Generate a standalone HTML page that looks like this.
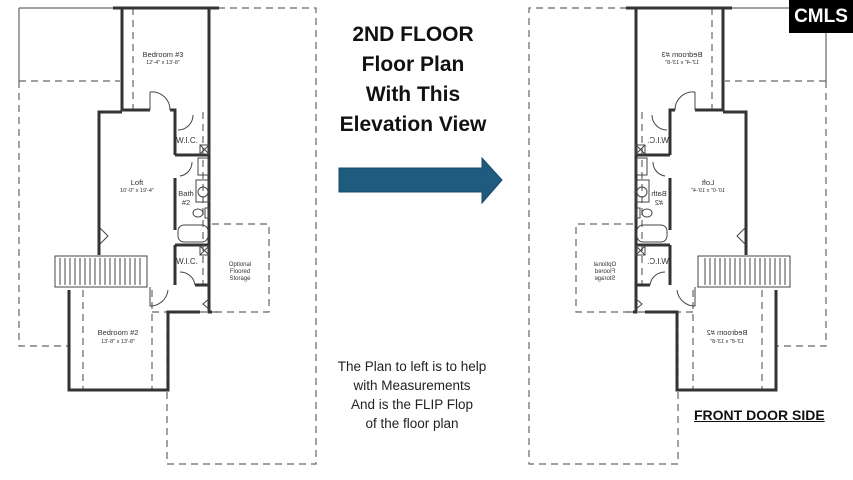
<!DOCTYPE html>
<html><head><meta charset="utf-8"><style>
html,body{margin:0;padding:0;background:#fff;}
body{width:853px;height:480px;overflow:hidden;position:relative;font-family:"Liberation Sans",sans-serif;}
.t{position:absolute;left:313px;width:200px;text-align:center;font-weight:bold;font-size:21px;color:#111;}
.b{position:absolute;left:312px;width:200px;text-align:center;font-size:13.5px;color:#222;}
</style></head><body>
<svg width="853" height="480" style="position:absolute;left:0;top:0">
<defs>
<g id="plan">
<g fill="none" stroke="#666" stroke-width="1.2" stroke-dasharray="7,5">
<path d="M19 81 V346 H68"/>
<path d="M19 81 H120"/>
<path d="M218 8 H316 V464 H167 V312"/>
<path d="M152 312 H218"/>
<path d="M212 224 H269 V312 H212"/>
<path d="M133 8 V110"/><path d="M83 290 V390"/><path d="M152 290 V390"/>
<path d="M203 112 V285"/>
</g>
<path d="M19 8 H113" stroke="#666" stroke-width="1.2" fill="none"/>
<path d="M19 8 V81" stroke="#666" stroke-width="1.2" fill="none"/>
<g fill="none" stroke="#333" stroke-width="3">
<path d="M122 8 V110 H150"/>
<path d="M170 110 H175 V155"/>
<path d="M209 8 V312 H212"/>
<path d="M113 8 H219"/>
<path d="M99 255 V112 H122"/>
<path d="M175 178 V230"/>
<path d="M175 245 V285"/>
<path d="M69 290 V390 H168 V312 H200"/>
<path d="M175 155 H209"/><path d="M175 245 H209"/><path d="M195 285 H209"/>
</g>
<g fill="none" stroke="#444" stroke-width="1">
<rect x="55" y="256" width="92" height="31"/>
<path d="M60 258V285M65 258V285M70 258V285M75 258V285M80 258V285M85 258V285M90 258V285M95 258V285M100 258V285M105 258V285M110 258V285M115 258V285M120 258V285M125 258V285M130 258V285M135 258V285M140 258V285"/>
<path d="M150 92 A18 18 0 0 1 170 110"/><path d="M150 92 V110"/>
<path d="M150 287 V306 A18 18 0 0 0 168 290"/>
<path d="M178 130 A15 15 0 0 0 193 115"/>
<path d="M180 272 A15 15 0 0 1 195 285"/>
<path d="M180 176 A14 14 0 0 0 192 162"/>
<rect x="178" y="225" width="30" height="17" rx="6"/>
<rect x="196" y="180" width="13" height="22"/><circle cx="203" cy="192" r="5"/>
<ellipse cx="198" cy="213" rx="5" ry="4"/><rect x="205" y="208" width="4" height="10"/>
<rect x="200" y="145" width="9" height="9"/><path d="M200 145 L209 154 M209 145 L200 154"/>
<rect x="200" y="246" width="9" height="9"/><path d="M200 246 L209 255 M209 246 L200 255"/>
<rect x="198" y="158" width="10" height="17"/>
<path d="M100 228 L108 236 L100 244"/>
<path d="M210 298 L203 304 L210 310"/>
</g>
<g font-family="Liberation Sans,sans-serif" fill="#333" text-anchor="middle">
<text x="163" y="57" font-size="7.5">Bedroom #3</text><text x="163" y="64" font-size="5.5">12'-4" x 13'-8"</text>
<text x="137" y="185" font-size="7.5">Loft</text><text x="137" y="192" font-size="5.5">10'-0" x 19'-4"</text>
<text x="186" y="196" font-size="7.5">Bath</text><text x="186" y="205" font-size="7.5">#2</text>
<text x="187" y="143" font-size="8">W.I.C.</text><text x="187" y="264" font-size="8">W.I.C.</text>
<text x="240" y="266" font-size="6">Optional</text><text x="240" y="273" font-size="6">Floored</text><text x="240" y="280" font-size="6">Storage</text>
<text x="118" y="335" font-size="7.5">Bedroom #2</text><text x="118" y="343" font-size="5.5">13'-8" x 13'-8"</text>
</g>
</g>
</defs>
<use href="#plan"/>
<g transform="translate(845,0) scale(-1,1)"><use href="#plan"/></g>
<path d="M339 168 H482 V158 L502 180 L482 203 V192 H339 Z" fill="#1f5b7f" stroke="#17486a" stroke-width="1"/>
<rect x="789" y="0" width="64" height="33" fill="#000"/>
<text x="821" y="22" font-family="Liberation Sans,sans-serif" font-size="19" font-weight="bold" fill="#fff" text-anchor="middle">CMLS</text>
</svg>
<div class="t" style="top:23px">2ND FLOOR</div>
<div class="t" style="top:53px">Floor Plan</div>
<div class="t" style="top:83px">With This</div>
<div class="t" style="top:113px">Elevation View</div>
<div class="b" style="top:359px">The Plan to left is to help</div>
<div class="b" style="top:378px">with Measurements</div>
<div class="b" style="top:397px">And is the FLIP Flop</div>
<div class="b" style="top:416px">of the floor plan</div>
<div style="position:absolute;left:694px;top:407px;font-weight:bold;font-size:14px;text-decoration:underline;color:#111">FRONT DOOR SIDE</div>
</body></html>
